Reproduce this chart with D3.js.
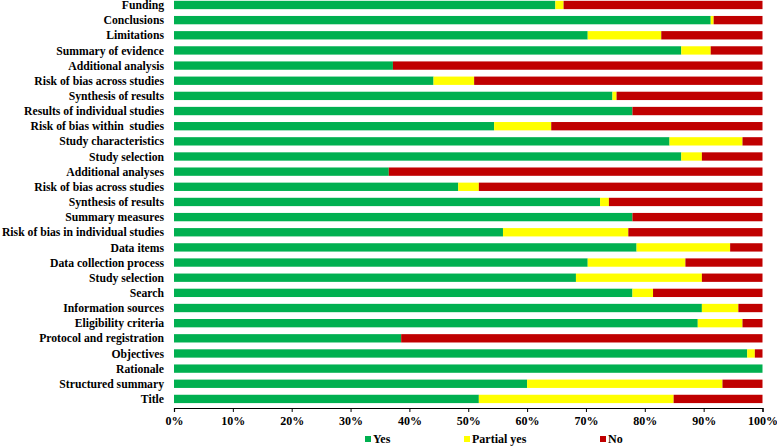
<!DOCTYPE html>
<html>
<head>
<meta charset="utf-8">
<script src="https://cdn.jsdelivr.net/npm/d3@7"></script>
<style>
  body { margin: 0; background: #fff; }
  svg text { font-family: "Liberation Serif", "Times New Roman", serif; font-weight: bold; fill: #000; white-space: pre; }
</style>
</head>
<body>
<svg class="chart" width="777" height="447"></svg>
<script>
// items, top to bottom
const items = [
    "Funding", "Conclusions", "Limitations", "Summary of evidence", "Additional analysis",
    "Risk of bias across studies", "Synthesis of results", "Results of individual studies",
    "Risk of bias within  studies", "Study characteristics", "Study selection",
    "Additional analyses", "Risk of bias across studies", "Synthesis of results",
    "Summary measures", "Risk of bias in individual studies", "Data items",
    "Data collection process", "Study selection", "Search", "Information sources",
    "Eligibility criteria", "Protocol and registration", "Objectives", "Rationale",
    "Structured summary", "Title"
];
const yesPct     = [64.8, 91.2, 70.3, 86.2, 37.2, 44.1, 74.5, 77.9, 54.4, 84.2, 86.2, 36.5, 48.3, 72.4,
                    77.9, 55.9, 78.6, 70.3, 68.3, 77.9, 89.7, 89.0, 38.6, 97.4, 100, 60.0, 51.8];
const partialPct = [1.4, 0.5, 12.5, 5.0, 0, 6.9, 0.7, 0, 9.7, 12.4, 3.5, 0, 3.5, 1.5,
                    0, 21.3, 15.9, 16.6, 21.4, 3.5, 6.2, 7.6, 0, 1.3, 0, 33.2, 33.1];
const noPct      = [33.8, 8.3, 17.2, 8.8, 62.8, 49.0, 24.8, 22.1, 35.9, 3.4, 10.3, 63.5, 48.2, 26.1,
                    22.1, 22.8, 5.5, 13.1, 10.3, 18.6, 4.1, 3.4, 61.4, 1.3, 0, 6.8, 15.1];
const seriesNames = ["Yes", "Partial yes", "No"];
const xTicks = [0, 10, 20, 30, 40, 50, 60, 70, 80, 90, 100];

const colors = d3.scaleOrdinal()
    .domain(seriesNames)
    .range(['#00b050', '#ffff00', '#c00000']);

const svg = d3.select('svg.chart');
const margin = { top: -2.6, left: 174, right: 14.5 };
const plotBottom = 406.5;

const rows = items.map((name, i) => ({
    idx: i, name: name,
    "Yes": yesPct[i], "Partial yes": partialPct[i], "No": noPct[i]
}));

const stacked = d3.stack().keys(seriesNames)(rows);

const xScale = d3.scaleLinear()
    .domain([0, 100])
    .range([margin.left, 777 - margin.right]);

const yScale = d3.scaleBand()
    .domain(rows.map(d => d.idx))
    .range([margin.top, plotBottom])
    .paddingInner(0.45)
    .paddingOuter(0.225);

svg.append('g')
    .selectAll('g').data(stacked)
    .enter().append('g')
        .attr('fill', d => colors(d.key))
    .selectAll('rect').data(d => d)
    .enter().append('rect')
        .attr('x', d => xScale(d[0]))
        .attr('y', d => yScale(d.data.idx))
        .attr('width', d => xScale(d[1]) - xScale(d[0]))
        .attr('height', yScale.bandwidth());

// category labels
svg.append('g')
    .selectAll('text').data(rows)
    .enter().append('text')
        .attr('x', margin.left - 10)
        .attr('y', d => yScale(d.idx) + yScale.bandwidth() / 2)
        .attr('dy', '0.35em')
        .attr('text-anchor', 'end')
        .style('font-size', '11.7px')
        .text(d => d.name);

// x axis
const xAxis = svg.append('g')
    .attr('transform', `translate(0, ${plotBottom + 1.5})`)
    .call(d3.axisBottom(xScale).tickValues(xTicks).tickFormat(d => d + '%').tickSize(4).tickSizeOuter(4));
xAxis.select('.domain').attr('stroke', '#000').attr('stroke-width', 1.2);
xAxis.selectAll('.tick line').attr('stroke', '#000');
xAxis.selectAll('.tick text')
    .attr('y', 8)
    .style('font-size', '12px')
    .style('font-family', '"Liberation Serif", serif')
    .style('font-weight', 'bold');

// legend
const legendX = [365, 464, 600];
const legend = svg.append('g')
    .selectAll('g').data(seriesNames)
    .enter().append('g')
        .attr('transform', (d, i) => `translate(${legendX[i]}, 439)`);
legend.append('rect')
    .attr('x', 0).attr('y', -3)
    .attr('width', 6).attr('height', 6)
    .attr('fill', d => colors(d));
legend.append('text')
    .attr('x', 8)
    .attr('dy', '0.35em')
    .style('font-size', '12px')
    .text(d => d);
</script>
</body>
</html>
